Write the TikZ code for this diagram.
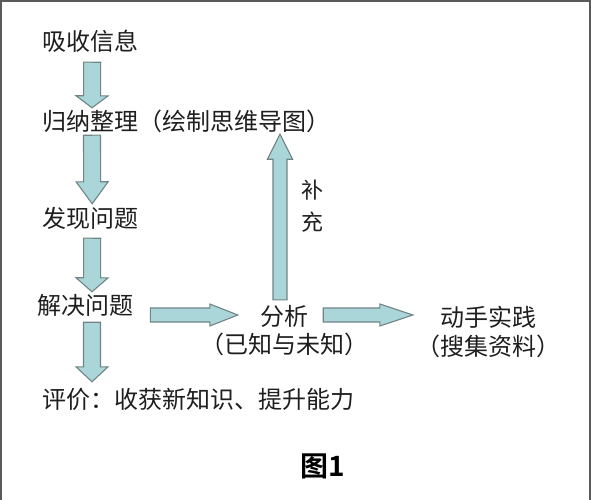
\documentclass[tikz,border=0pt]{standalone}
\usepackage{fontspec}
\usepackage{tikz}
\usetikzlibrary{calc}
\newfontfamily\cjk{Noto Sans CJK SC}
\newfontfamily\cjkbold{Noto Sans CJK SC Bold}
\definecolor{arrowfill}{RGB}{170,214,217}
\definecolor{arrowline}{RGB}{112,132,133}
\definecolor{framegray}{RGB}{90,90,90}
\definecolor{inkgray}{RGB}{30,30,30}

% block arrow: #2 start, #3 tip, #4 half shaft, #5 half head, #6 head length
\newcommand{\blockarrow}[6][]{%
  \draw[fatarrow,#1] ($(#2)!#4!90:(#3)$)
    -- ($($(#3)!#6!(#2)$)!#4!90:(#3)$)
    -- ($($(#3)!#6!(#2)$)!#5!90:(#3)$)
    -- (#3)
    -- ($($(#3)!#6!(#2)$)!#5!-90:(#3)$)
    -- ($($(#3)!#6!(#2)$)!#4!-90:(#3)$)
    -- ($(#2)!#4!-90:(#3)$) -- cycle;}

\begin{document}
\begin{tikzpicture}[x=1pt,y=-1pt,
txt/.style={inner sep=0pt,text height=20pt,text depth=4pt,
  font=\cjk\fontsize{24}{24}\selectfont,text=inkgray},
fatarrow/.style={fill=arrowfill,draw=arrowline,line width=1.1pt,line join=miter}]
\useasboundingbox (0,0) rectangle (591,500);
\draw[framegray,line width=4.5pt] (0,500) -- (0,0) -- (591,0) -- (591,500);

\node (xishou) [txt,anchor=west] at (42,43) {吸收信息};
\node (guina) [txt,anchor=west] at (42,122) {归纳整理（绘制思维导图）};
\node (faxian) [txt,anchor=west] at (42,219) {发现问题};
\node (jiejue) [txt,anchor=west] at (37,306) {解决问题};
\node (pingjia) [txt,anchor=west] at (42,400) {评价：收获新知识、提升能力};
\node (fenxi) [txt] at (284,317) {分析};
\node (yizhi) [txt] at (284,345) {（已知与未知）};
\node (dongshou) [txt] at (488,318) {动手实践};
\node (souji) [txt] at (488,347) {（搜集资料）};
\node (buchong) [inner sep=0pt,align=center,text=inkgray,
  font=\cjk\fontsize{22}{32}\selectfont] at (312,206) {补\\充};
\node (tu) [inner sep=0pt,text=black,
  font=\cjkbold\fontsize{28}{28}\selectfont] at (323,466) {图1};

\coordinate (a1s) at ($(xishou.south)+(2,7)$);
\coordinate (a1e) at ($(guina.north west)+(50,-2)$);
\coordinate (a2s) at ($(guina.south west)+(50,1)$);
\coordinate (a2e) at ($(faxian.north)+(2,-3)$);
\coordinate (a3s) at ($(faxian.south)+(2,7)$);
\coordinate (a3e) at ($(jiejue.north west)+(55,-2)$);
\coordinate (a4s) at ($(jiejue.south west)+(55,4)$);
\coordinate (a4e) at ($(pingjia.north west)+(50,-6)$);
\coordinate (hs1) at ($(jiejue.east)+(17,9)$);
\coordinate (he1) at ($(fenxi.west)+(-22,-2)$);
\coordinate (hs2) at ($(fenxi.east)+(15,-2)$);
\coordinate (he2) at ($(dongshou.west)+(-27,-3)$);
\coordinate (us) at ($(fenxi.north)+(-4,-5)$);
\coordinate (ue) at (us |- guina.south);

\blockarrow{a1s}{a1e}{8.5pt}{16pt}{12pt}
\blockarrow{a2s}{a2e}{8.5pt}{16pt}{22pt}
\blockarrow{a3s}{a3e}{8.5pt}{16pt}{14pt}
\blockarrow{a4s}{a4e}{8.5pt}{16pt}{15pt}
\blockarrow{us}{ue}{7pt}{12.5pt}{25pt}
\blockarrow{hs1}{he1}{7pt}{11pt}{28pt}
\blockarrow{hs2}{he2}{7pt}{11pt}{33pt}
\end{tikzpicture}
\end{document}
